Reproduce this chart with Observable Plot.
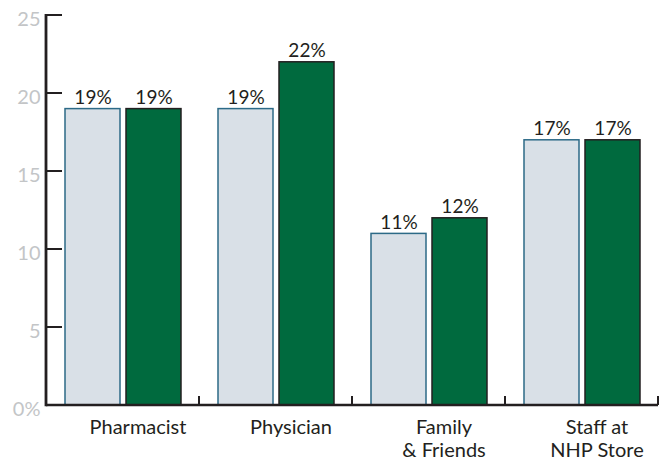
<!DOCTYPE html>
<html><head><meta charset="utf-8">
<script src="https://cdn.jsdelivr.net/npm/d3@7"></script>
<script src="https://cdn.jsdelivr.net/npm/@observablehq/plot@0.6"></script>
<style>body{margin:0;background:#fff}</style>
</head><body><div id="chart"></div>
<script>
const categories = ["Pharmacist", "Physician", "Family\n& Friends", "Staff at\nNHP Store"];
const greyValues = [19, 19, 11, 17];
const greenValues = [19, 22, 12, 17];
const yTicks = [0, 5, 10, 15, 20, 25];

const rows = categories.map((c, i) => ({category: c, grey: greyValues[i], green: greenValues[i]}));

function axisLines(index, scales, values, dims) {
  const {x, y} = scales;
  const bw = typeof x.bandwidth === "function" ? x.bandwidth() : x.bandwidth;
  const g = d3.create("svg:g").attr("stroke", "#231f20").attr("fill", "none");
  const x0 = dims.marginLeft, x1 = dims.width - dims.marginRight;
  g.append("line").attr("x1", x0).attr("x2", x1).attr("y1", y(0)).attr("y2", y(0)).attr("stroke-width", 2.5);
  g.append("line").attr("x1", x0).attr("x2", x0).attr("y1", y(25) - 1).attr("y2", y(0) + 1.25).attr("stroke-width", 2.8);
  for (const t of yTicks) {
    g.append("line").attr("x1", x0).attr("x2", x0 + 16).attr("y1", y(t)).attr("y2", y(t)).attr("stroke-width", 2);
  }
  for (const c of categories) {
    const px = x(c) + bw;
    g.append("line").attr("x1", px).attr("x2", px).attr("y1", y(0)).attr("y2", y(0) - 9).attr("stroke-width", 2);
  }
  return g.node();
}

const chart = Plot.plot({
  width: 668,
  height: 463,
  marginLeft: 46,
  marginRight: 10,
  marginTop: 15,
  marginBottom: 58,
  style: {fontFamily: "Lato, 'Open Sans', sans-serif", background: "white"},
  x: {domain: categories, padding: 0, axis: null},
  y: {domain: [0, 25], axis: null},
  marks: [
    Plot.barY(rows, {x: "category", y: "grey", insetLeft: 19, insetRight: 79, fill: "#d9e0e7", stroke: "#2c6a87", strokeWidth: 1.5}),
    Plot.barY(rows, {x: "category", y: "green", insetLeft: 80, insetRight: 18, fill: "#006a3e", stroke: "#231f20", strokeWidth: 1.5}),
    Plot.text(rows, {x: "category", y: "grey", text: d => d.grey + "%", dx: -30, dy: -5, lineAnchor: "bottom", fontSize: 19, fill: "#231f20"}),
    Plot.text(rows, {x: "category", y: "green", text: d => d.green + "%", dx: 31, dy: -5, lineAnchor: "bottom", fontSize: 19, fill: "#231f20"}),
    Plot.axisX({tickSize: 0, tickPadding: 13, fontSize: 20, dx: 15, color: "#231f20", label: null, lineHeight: 1.12}),
    Plot.axisY({ticks: yTicks, tickSize: 0, tickPadding: 6, tickFormat: d => d === 0 ? "0%" : String(d), fontSize: 20, color: "#c3c5c7", dy: 4, label: null}),
    axisLines
  ]
});
document.getElementById("chart").appendChild(chart);
</script>
</body></html>
